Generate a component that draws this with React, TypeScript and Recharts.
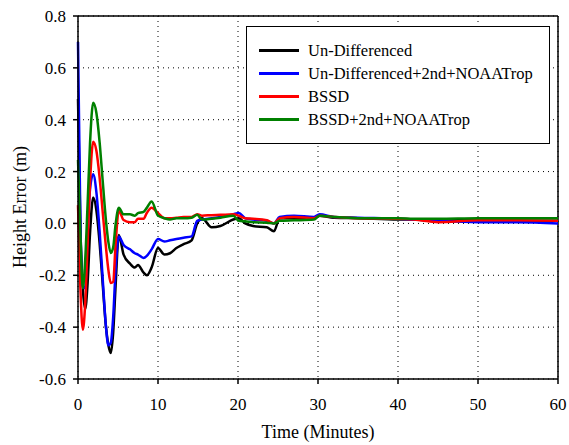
import React from 'react';
import { LineChart, Line, XAxis, YAxis, CartesianGrid, ReferenceLine } from 'recharts';

const TIMES = [
  0, 0.3, 0.6, 0.9, 1.2, 1.5, 1.9,
  2.3, 2.7, 3.1, 3.5, 3.8, 4.1, 4.4, 4.7, 5.1,
  5.7, 6.5, 7.1, 7.5, 8.2, 8.6, 9.2,
  10, 10.8, 11.5, 12.3, 13.2, 14.2,
  14.9, 15.5, 16.7, 17.8, 19.4, 20.1, 20.9, 21.9, 23.6, 24.5, 25.2,
  27, 29.5, 30.2, 32, 35, 40, 42, 45, 50, 55, 60,
];

const UNDIFF = [
  0.48, -0.02, -0.25, -0.33, -0.23, -0.04, 0.1,
  0.05, -0.075, -0.24, -0.4, -0.47, -0.5, -0.42, -0.24, -0.045,
  -0.12, -0.155, -0.17, -0.16, -0.19, -0.2, -0.17,
  -0.095, -0.12, -0.115, -0.095, -0.08, -0.065,
  0.0, 0.02, -0.015, -0.01, 0.015, 0.02, 0.0, -0.01, -0.015, -0.03, 0.02,
  0.02, 0.02, 0.03, 0.022, 0.02, 0.015, 0.015, 0.01, 0.015, 0.01, 0.01,
];

const UNDIFF_NOAA = [
  0.7, 0.0, -0.24, -0.25, -0.04, 0.13, 0.19,
  0.12, -0.03, -0.22, -0.4, -0.47, -0.46, -0.36, -0.18, -0.05,
  -0.083, -0.1, -0.115, -0.12, -0.133, -0.125, -0.1,
  -0.06, -0.07, -0.065, -0.06, -0.055, -0.05,
  0.01, 0.015, 0.02, 0.025, 0.035, 0.04, 0.02, 0.015, 0.01, 0.0, 0.025,
  0.03, 0.025, 0.035, 0.025, 0.022, 0.018, 0.015, 0.01, 0.005, 0.005, 0.0,
];

const BSSD = [
  0.07, -0.25, -0.41, -0.31, -0.08, 0.155, 0.315,
  0.28, 0.177, 0.04, -0.094, -0.18, -0.23, -0.225, -0.08, 0.05,
  0.013, 0.005, 0.005, 0.018, 0.018, 0.04, 0.06,
  0.04, 0.02, 0.02, 0.022, 0.025, 0.025,
  0.035, 0.03, 0.032, 0.033, 0.035, 0.03, 0.02, 0.018, 0.012, 0.0, 0.02,
  0.025, 0.02, 0.03, 0.025, 0.02, 0.018, 0.015, 0.005, 0.012, 0.012, 0.01,
];

const BSSD_NOAA = [
  0.245, -0.04, -0.25, -0.14, 0.075, 0.307, 0.465,
  0.426, 0.314, 0.159, 0.01, -0.072, -0.114, -0.092, -0.003, 0.06,
  0.035, 0.035, 0.03, 0.04, 0.045, 0.06, 0.085,
  0.03, 0.02, 0.015, 0.02, 0.02, 0.022,
  0.033, 0.015, 0.018, 0.022, 0.03, 0.01, 0.008, 0.005, 0.003, 0.0, 0.01,
  0.012, 0.015, 0.03, 0.025, 0.02, 0.02, 0.018, 0.018, 0.02, 0.02, 0.02,
];

const X_TICKS = [0, 10, 20, 30, 40, 50, 60];
const Y_TICKS = [-0.6, -0.4, -0.2, 0, 0.2, 0.4, 0.6, 0.8];

const SERIES = [
  { key: 'undiff', name: 'Un-Differenced', color: '#000000', values: UNDIFF },
  { key: 'undiffNoaa', name: 'Un-Differenced+2nd+NOAATrop', color: '#0000ff', values: UNDIFF_NOAA },
  { key: 'bssd', name: 'BSSD', color: '#ff0000', values: BSSD },
  { key: 'bssdNoaa', name: 'BSSD+2nd+NOAATrop', color: '#008000', values: BSSD_NOAA },
];

const rows = TIMES.map((t, i) => {
  const row: Record<string, number> = { t };
  SERIES.forEach((s) => { row[s.key] = s.values[i]; });
  return row;
});

const FONT = '"Liberation Serif", "Times New Roman", serif';

export default function App() {
  return (
    <div style={{ position: 'absolute', left: 0, top: 0, width: 569, height: 445, background: '#fff', fontFamily: FONT }}>
      <LineChart width={569} height={445} data={rows} margin={{ top: 16, right: 11, bottom: 0, left: 0 }}>
        <CartesianGrid stroke="#000" strokeDasharray="1 4" />
        <XAxis
          dataKey="t"
          type="number"
          domain={[0, 60]}
          ticks={X_TICKS}
          height={66}
          stroke="#000"
          strokeWidth={1.5}
          tickSize={5}
          tickMargin={14}
          tick={{ fill: '#000', fontSize: 17, fontFamily: FONT }}
          label={() => (
            <text x={318} y={438} textAnchor="middle" fill="#000" fontSize={18} fontFamily={FONT}>
              Time (Minutes)
            </text>
          )}
        />
        <YAxis
          type="number"
          domain={[-0.6, 0.8]}
          ticks={Y_TICKS}
          width={78}
          stroke="#000"
          strokeWidth={1.5}
          tickSize={5}
          tickMargin={7}
          tickFormatter={(v: number) => v.toFixed(1)}
          tick={{ fill: '#000', fontSize: 17, fontFamily: FONT }}
          label={() => (
            <text
              x={26}
              y={207}
              transform="rotate(-90 26 207)"
              textAnchor="middle"
              fill="#000"
              fontSize={18}
              fontFamily={FONT}
            >
              Height Error (m)
            </text>
          )}
        />
        <ReferenceLine y={0.8} stroke="#000" strokeWidth={1.5} />
        <ReferenceLine x={60} stroke="#000" strokeWidth={1.5} />
        {SERIES.map((s) => (
          <Line
            key={s.key}
            dataKey={s.key}
            name={s.name}
            type="monotone"
            stroke={s.color}
            strokeWidth={2.5}
            dot={false}
            isAnimationActive={false}
          />
        ))}
      </LineChart>
      {/* legend box drawn over the plot, top right */}
      <div
        style={{
          position: 'absolute',
          left: 246,
          top: 26,
          width: 304,
          height: 118,
          border: '1px solid #000',
          background: '#fff',
          boxSizing: 'border-box',
          overflow: 'hidden',
          paddingTop: 12,
        }}
      >
        {SERIES.map((s) => (
          <div key={s.key} style={{ display: 'flex', alignItems: 'center', height: 23 }}>
            <div style={{ marginLeft: 12, width: 40, height: 3, background: s.color }} />
            <span style={{ marginLeft: 9, fontSize: 16.5, color: '#000', lineHeight: '23px' }}>{s.name}</span>
          </div>
        ))}
      </div>
    </div>
  );
}
